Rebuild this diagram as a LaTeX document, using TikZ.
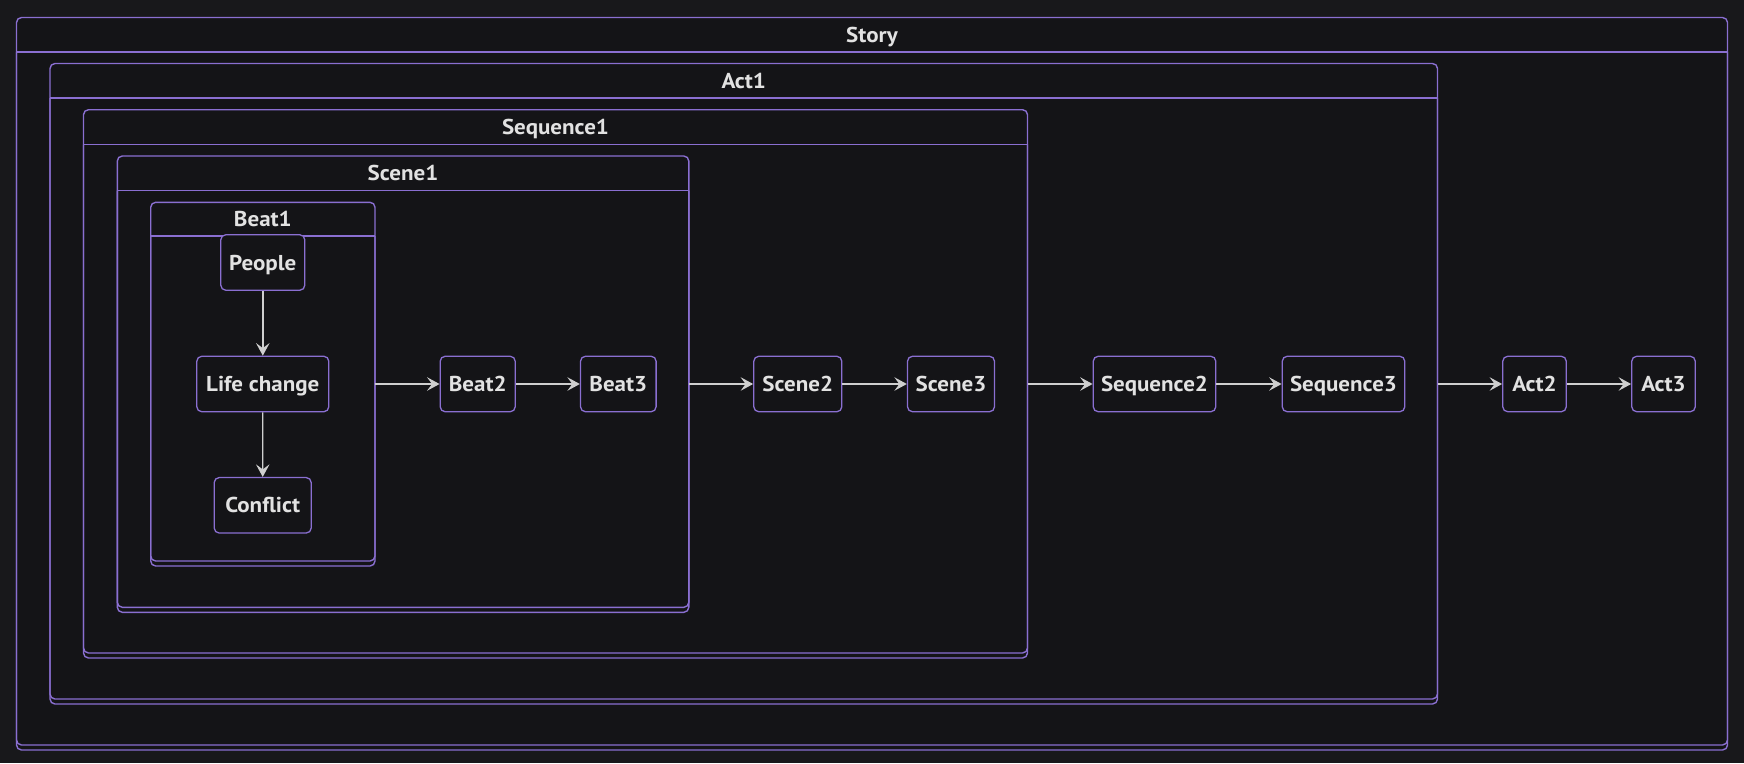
\documentclass[tikz,border=0pt]{standalone}
\usepackage{fontspec}
\setmainfont{PT Sans}
\newfontfamily\lblfont[FakeStretch=1.07]{PT Sans}
\usetikzlibrary{arrows.meta}
\definecolor{bg}{HTML}{18181B}
\definecolor{cfill}{HTML}{141417}
\definecolor{pur}{HTML}{8A6FD1}
\definecolor{txt}{HTML}{E2E2E2}
\definecolor{edgec}{HTML}{CFCFCF}
\tikzset{
  lbl/.style={font=\lblfont\bfseries\fontsize{21.5}{24}\selectfont, text=txt, text height=15pt, text depth=0pt},
  statebox/.style={lbl, draw=pur, line width=1.3pt, fill=cfill, rounded corners=5pt, inner sep=0pt, minimum height=55.5pt},
  ctitle/.style={lbl, inner sep=0pt},
  arr/.style={draw=edgec, line width=1.4pt, -{Stealth[length=12.5pt,width=13.5pt,inset=5pt]}},
  cline/.style={draw=pur, line width=1.4pt},
}
\newcommand{\clusterbox}[8]{%
  \filldraw[cline, fill=cfill, rounded corners=5pt] (#2,#4) rectangle (#3,#7);
  \draw[cline] (#2,#5) -- (#3,#5);
  \draw[cline, rounded corners=5pt] (#2,#5) -- (#2,#6) -- (#3,#6) -- (#3,#5);
  \node[ctitle] (#1) at ({(#2+#3)/2},{(#4+#5)/2}) {#8};
}
\begin{document}
\begin{tikzpicture}[x=1pt,y=-1pt]
\fill[bg] (0,0) rectangle (1744,763);
\useasboundingbox (0,0) rectangle (1744,763);
% clusters
\clusterbox{story}{16.5}{1727.5}{17.5}{52}{745}{750}{Story}
\clusterbox{act1}{50}{1437.5}{63.5}{98}{699}{704}{Act1}
\clusterbox{seq1}{83.5}{1027.5}{109.7}{144.3}{653}{658}{Sequence1}
\clusterbox{scene1}{117.3}{688.8}{156}{190.7}{607.3}{612.3}{Scene1}
\clusterbox{beat1}{150.7}{375}{202.3}{236}{561}{566}{Beat1}
% exit points of clusters
\coordinate (beat1E) at (375,384);
\coordinate (scene1E) at (688.8,384);
\coordinate (seq1E) at (1027.5,384);
\coordinate (act1E) at (1437.5,384);
% states
\node[statebox, minimum width=84pt] (people) at (262.8,262.5) {People};
\node[statebox, minimum width=132pt] (life) at (262.8,384) {Life change};
\node[statebox, minimum width=97pt] (conflict) at (262.7,505.3) {Conflict};
\node[statebox, minimum width=75pt] (beat2) at (477.7,384) {Beat2};
\node[statebox, minimum width=75.6pt] (beat3) at (618.3,384) {Beat3};
\node[statebox, minimum width=88pt] (scene2) at (797.8,384) {Scene2};
\node[statebox, minimum width=87pt] (scene3) at (951,384) {Scene3};
\node[statebox, minimum width=122.5pt] (seq2) at (1154.5,384) {Sequence2};
\node[statebox, minimum width=122.5pt] (seq3) at (1343.5,384) {Sequence3};
\node[statebox, minimum width=63.5pt] (act2) at (1534.5,384) {Act2};
\node[statebox, minimum width=63.5pt] (act3) at (1663.5,384) {Act3};
% edges
\draw[arr] (people) -- (life);
\draw[arr] (life) -- (conflict);
\draw[arr] (beat1E) -- (beat2);
\draw[arr] (beat2) -- (beat3);
\draw[arr] (scene1E) -- (scene2);
\draw[arr] (scene2) -- (scene3);
\draw[arr] (seq1E) -- (seq2);
\draw[arr] (seq2) -- (seq3);
\draw[arr] (act1E) -- (act2);
\draw[arr] (act2) -- (act3);
\end{tikzpicture}
\end{document}
